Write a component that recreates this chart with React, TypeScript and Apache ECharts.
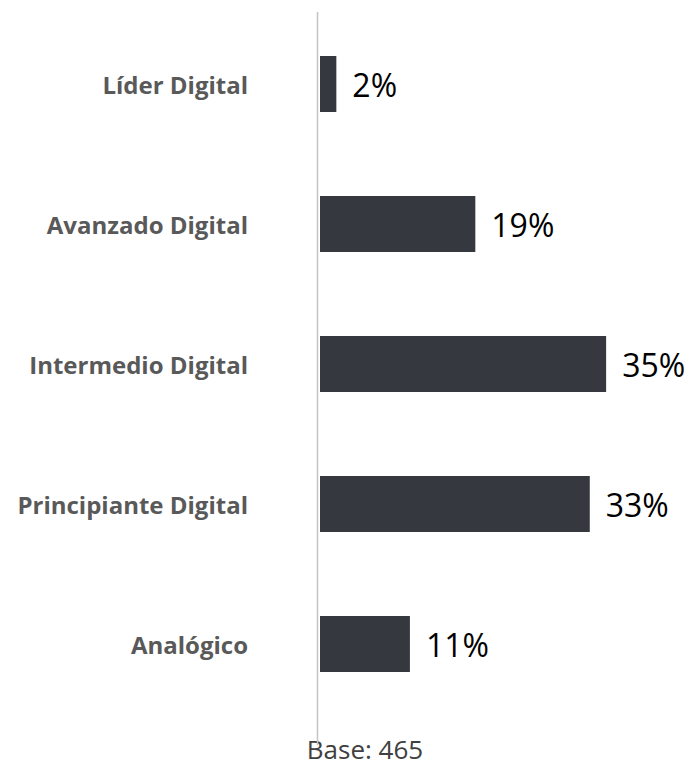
import React, { useEffect, useRef } from "react";
import * as echarts from "echarts";

const categories = ["Líder Digital", "Avanzado Digital", "Intermedio Digital", "Principiante Digital", "Analógico"];
const values = [2, 19, 35, 33, 11];
const baseText = "Base: 465";

export default function App() {
  const ref = useRef<HTMLDivElement>(null);
  useEffect(() => {
    const chart = echarts.init(ref.current!, null, { renderer: "svg" });
    chart.setOption({
      animation: false,
      backgroundColor: "#ffffff",
      grid: { left: 320, top: 14, height: 700, right: 46 },
      xAxis: {
        type: "value",
        min: 0,
        max: 40,
        show: false,
      },
      yAxis: {
        type: "category",
        data: categories,
        inverse: true,
        axisLine: { show: false },
        axisTick: { show: false },
        axisLabel: {
          margin: 72,
          color: "#595959",
          fontFamily: "Open Sans",
          fontWeight: "bold",
          fontSize: 24,
        },
      },
      series: [
        {
          type: "bar",
          data: values,
          barWidth: 56,
          itemStyle: { color: "#363840" },
          label: {
            show: true,
            position: "right",
            distance: 16,
            formatter: "{c}%",
            color: "#000000",
            fontFamily: "Open Sans",
            fontSize: 32,
          },
        },
      ],
      graphic: [
        {
          type: "line",
          shape: { x1: 317.5, y1: 12, x2: 317.5, y2: 745 },
          style: { stroke: "#c4c4c4", lineWidth: 1.5 },
          z: 10,
        },
        {
          type: "text",
          x: 365,
          y: 762,
          style: {
            text: baseText,
            fill: "#404040",
            fontFamily: "Open Sans",
            fontSize: 26,
            textAlign: "center",
            textVerticalAlign: "bottom",
          },
        },
      ],
    });
    return () => chart.dispose();
  }, []);
  return (
    <div
      ref={ref}
      style={{ position: "fixed", left: 0, top: 0, width: 693, height: 766 }}
    />
  );
}
